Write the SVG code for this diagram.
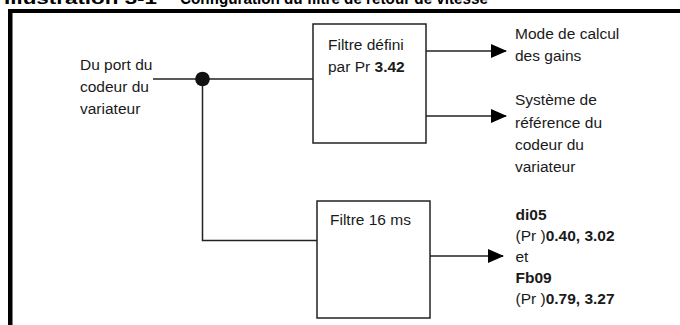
<svg xmlns="http://www.w3.org/2000/svg" width="680" height="325" viewBox="0 0 680 325">
<defs>
<style>
.t{font-family:"Liberation Sans",Arial,sans-serif;font-size:15.5px;fill:#1a1a1a}
.b{font-weight:bold}
.title{font-family:"Liberation Sans",Arial,sans-serif;font-size:16px;font-weight:bold;fill:#000}
.ln{stroke:#222;stroke-width:1.5;fill:none}
.box{stroke:#222;stroke-width:1.5;fill:#fff}
</style>
<marker id="ah" viewBox="0 0 16 16" refX="15" refY="8" markerWidth="16" markerHeight="16" markerUnits="userSpaceOnUse" orient="auto">
<path d="M0,1 L16,8 L0,15 Z" fill="#000"/>
</marker>
</defs>
<rect width="680" height="325" fill="#fff"/>
<g id="title">
<text class="title" x="4" y="4" textLength="153" lengthAdjust="spacingAndGlyphs">Illustration 3-1</text>
<text class="title" x="180" y="4" textLength="308" lengthAdjust="spacingAndGlyphs">Configuration du filtre de retour de vitesse</text>
</g>
<g id="frame">
<rect x="8" y="9" width="672" height="4" fill="#000"/>
<rect x="8" y="9" width="4.5" height="316" fill="#000"/>
</g>
<g id="connectors">
<path class="ln" d="M153,79 H313"/>
<path class="ln" d="M202.5,79 V240.5 H317"/>
<circle cx="202.5" cy="79" r="7.3" fill="#111"/>
<path class="ln" d="M426,51 H506" marker-end="url(#ah)"/>
<path class="ln" d="M426,116 H506" marker-end="url(#ah)"/>
<path class="ln" d="M430,256 H503" marker-end="url(#ah)"/>
</g>
<g id="source">
<text class="t" x="80" y="69.5">Du port du</text>
<text class="t" x="80" y="91.5">codeur du</text>
<text class="t" x="80" y="114">variateur</text>
</g>
<g id="filtre1">
<rect class="box" x="313" y="24" width="113" height="119"/>
<text class="t" x="328" y="50">Filtre défini</text>
<text class="t" x="328" y="72">par Pr <tspan class="b">3.42</tspan></text>
</g>
<g id="filtre2">
<rect class="box" x="317" y="201" width="113" height="117"/>
<text class="t" x="330" y="225">Filtre 16 ms</text>
</g>
<g id="out-gains">
<text class="t" x="515" y="38.5">Mode de calcul</text>
<text class="t" x="515" y="61">des gains</text>
</g>
<g id="out-ref">
<text class="t" x="515" y="105">Système de</text>
<text class="t" x="515" y="127.5">référence du</text>
<text class="t" x="515" y="150">codeur du</text>
<text class="t" x="515" y="172">variateur</text>
</g>
<g id="out-params">
<text class="t b" x="515.5" y="219.5">di05</text>
<text class="t" x="515.5" y="241">(Pr )<tspan class="b">0.40, 3.02</tspan></text>
<text class="t" x="515.5" y="262">et</text>
<text class="t b" x="515.5" y="282.5">Fb09</text>
<text class="t" x="515.5" y="303.5">(Pr )<tspan class="b">0.79, 3.27</tspan></text>
</g>
</svg>
